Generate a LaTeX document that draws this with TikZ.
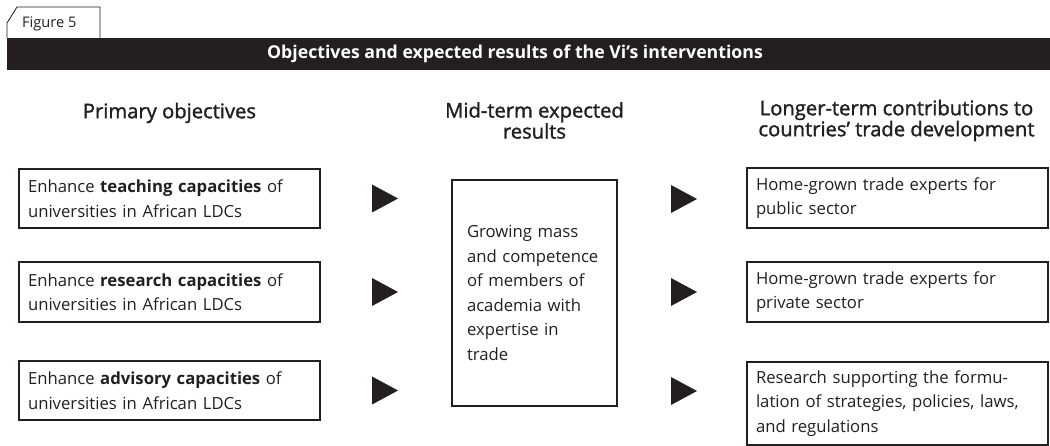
\documentclass[tikz,border=0pt]{standalone}
\usepackage{fontspec}
\setmainfont{Open Sans}
\newfontfamily\headfam{Open Sans}[FakeBold=1.5]
\usetikzlibrary{calc}
\definecolor{ink}{HTML}{231F20}
\newcommand\bodyfnt{\fontsize{16.7}{24.6}\selectfont}
\newcommand\headfnt{\headfam\fontsize{20.2}{21}\selectfont}
\begin{document}
\begin{tikzpicture}[x=1pt,y=-1pt,
  box/.style={draw=ink, line width=1.1pt, rectangle, anchor=north west,
    inner xsep=9pt, inner ysep=0pt, outer sep=0pt, align=left,
    text width=283pt, font=\bodyfnt, text=ink},
  head/.style={font=\headfnt, align=center, text=ink, inner sep=0pt},
  tri/.style={fill=ink}]
\useasboundingbox (0,0) rectangle (1050,446);
% tab and bar
\draw[ink, line width=0.8pt] (7,38) -- (7,23) -- (17,7) -- (100,7) -- (100,38);
\node[font=\fontsize{14.6}{16}\selectfont, text=ink, anchor=west, inner sep=0pt] (fig) at (22,24) {Figure 5};
\node[fill=ink, minimum width=1043pt, minimum height=32pt, anchor=north west, inner sep=0pt, outer sep=0pt] (bar) at (7,38) {};
\node[font=\bfseries\fontsize{17.7}{20}\selectfont, text=white, inner sep=0pt] (title) at (515,54) {Objectives and expected results of the Vi’s interventions};
% headers
\node[head] (h1) at (169.5,113) {Primary objectives};
\node[head] (h2) at (534.5,120.5) {Mid-term expected\\results};
\node[head] (h3) at (896.5,120.5) {Longer-term contributions to\\countries’ trade development};
% left boxes
\node[box, minimum height=59pt] (l1) at (19,169) {Enhance \textbf{teaching capacities} of\\universities in African LDCs};
\node[box, minimum height=60pt] (l2) at (19,262) {Enhance \textbf{research capacities} of\\universities in African LDCs};
\node[box, minimum height=59pt] (l3) at (19,361) {Enhance \textbf{advisory capacities} of\\universities in African LDCs};
% middle box
\node[box, inner xsep=15pt, text width=135pt, minimum height=226pt] (m) at (452,180) {Growing mass\\and competence\\of members of\\academia with\\expertise in\\trade};
% right boxes
\node[box, minimum height=60pt] (r1) at (747,168) {Home-grown trade experts for\\public sector};
\node[box, minimum height=60pt] (r2) at (747,262) {Home-grown trade experts for\\private sector};
\node[box, minimum height=83pt] (r3) at (747,362) {Research supporting the formu-\\lation of strategies, policies, laws,\\and regulations};
% arrows
\foreach \b in {l1,l2,l3}{
  \fill[tri] ($(\b.east)+(52,-14)$) -- ++(26,14) -- ++(-26,14) -- cycle;
}
\fill[tri] ($(m.east)+(54,-108)$) -- ++(26,14) -- ++(-26,14) -- cycle;
\fill[tri] ($(m.east)+(54,-15)$) -- ++(26,14) -- ++(-26,14) -- cycle;
\fill[tri] ($(m.east)+(54,84)$) -- ++(26,14) -- ++(-26,14) -- cycle;
\end{tikzpicture}
\end{document}
